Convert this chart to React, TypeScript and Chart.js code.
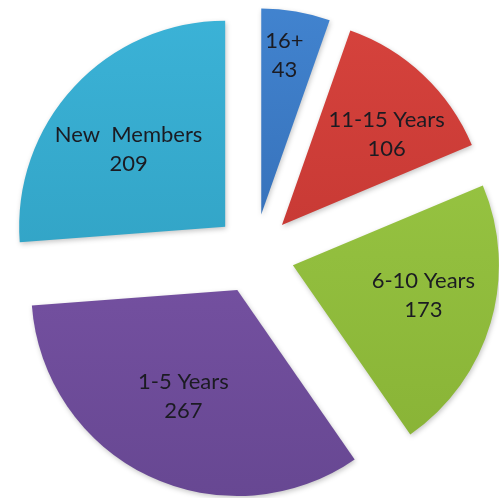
import React, { useEffect, useRef } from "react";
import { Chart, registerables } from "chart.js";

Chart.register(...registerables);

const categories = ["16+", "11-15 Years", "6-10 Years", "1-5 Years", "New  Members"];
const values = [43, 106, 173, 267, 209];

const topColors = ["#4386d2", "#d8443e", "#9dcb47", "#8159ae", "#3cb4d9"];
const bottomColors = ["#2c60a6", "#b9302c", "#86b034", "#654690", "#2b98b8"];
// label placement: distance from slice apex (fraction of radius) and angular nudge (degrees)
const labelFactors = [0.78, 0.67, 0.65, 0.58, 0.6];
const labelAngleShift = [-1.4, 6, -3.2, 1.3, -4.3];

const EXPLODE = 40;
const RADIUS = 206;
const FONT = "22px Lato";

export default function App() {
  const ref = useRef<HTMLCanvasElement | null>(null);

  useEffect(() => {
    document.body.style.margin = "0";
    const canvas = ref.current;
    if (!canvas) return;

    const explodePlugin = {
      id: "explode",
      beforeDatasetsDraw(chart: any) {
        chart.getDatasetMeta(0).data.forEach((arc: any) => {
          if (arc.__wrapped) return;
          const orig = arc.draw.bind(arc);
          arc.draw = (ctx: CanvasRenderingContext2D, area: any) => {
            const mid = (arc.startAngle + arc.endAngle) / 2;
            ctx.save();
            ctx.translate(Math.cos(mid) * EXPLODE, Math.sin(mid) * EXPLODE);
            ctx.shadowColor = "rgba(0,0,0,0.22)";
            ctx.shadowBlur = 5;
            ctx.shadowOffsetX = 1;
            ctx.shadowOffsetY = 2;
            orig(ctx, area);
            ctx.restore();
          };
          arc.__wrapped = true;
        });
      },
      afterDatasetsDraw(chart: any) {
        const ctx = chart.ctx as CanvasRenderingContext2D;
        const meta = chart.getDatasetMeta(0);
        ctx.save();
        ctx.font = FONT;
        ctx.fillStyle = "#1b1b22";
        ctx.textAlign = "center";
        ctx.textBaseline = "middle";
        meta.data.forEach((arc: any, i: number) => {
          const mid = (arc.startAngle + arc.endAngle) / 2;
          const ax = arc.x + Math.cos(mid) * EXPLODE;
          const ay = arc.y + Math.sin(mid) * EXPLODE;
          const la = mid + (labelAngleShift[i] * Math.PI) / 180;
          const r = labelFactors[i] * arc.outerRadius;
          const x = ax + Math.cos(la) * r;
          const y = ay + Math.sin(la) * r;
          ctx.fillText(categories[i], x, y - 14.5);
          ctx.fillText(String(values[i]), x, y + 14.5);
        });
        ctx.restore();
      },
    };

    const chart = new Chart(canvas, {
      type: "pie",
      data: {
        labels: categories,
        datasets: [
          {
            data: values,
            backgroundColor: (c: any) => {
              const area = c.chart.chartArea;
              const i = c.dataIndex;
              if (!area || i === undefined) return topColors[i ?? 0];
              const g = c.chart.ctx.createLinearGradient(0, area.top, 0, area.bottom);
              g.addColorStop(0, topColors[i]);
              g.addColorStop(1, bottomColors[i]);
              return g;
            },
            borderWidth: 0,
            radius: RADIUS,
            clip: false,
          } as any,
        ],
      },
      options: {
        animation: false,
        responsive: true,
        maintainAspectRatio: false,
        layout: { padding: { left: 10, top: 10, right: 0, bottom: 0 } },
        plugins: {
          legend: { display: false },
          tooltip: { enabled: false },
        },
        events: [],
      },
      plugins: [explodePlugin],
    });

    return () => chart.destroy();
  }, []);

  return (
    <div style={{ position: "absolute", left: 0, top: 0, width: 499, height: 498, background: "#fff" }}>
      <canvas ref={ref} />
    </div>
  );
}
